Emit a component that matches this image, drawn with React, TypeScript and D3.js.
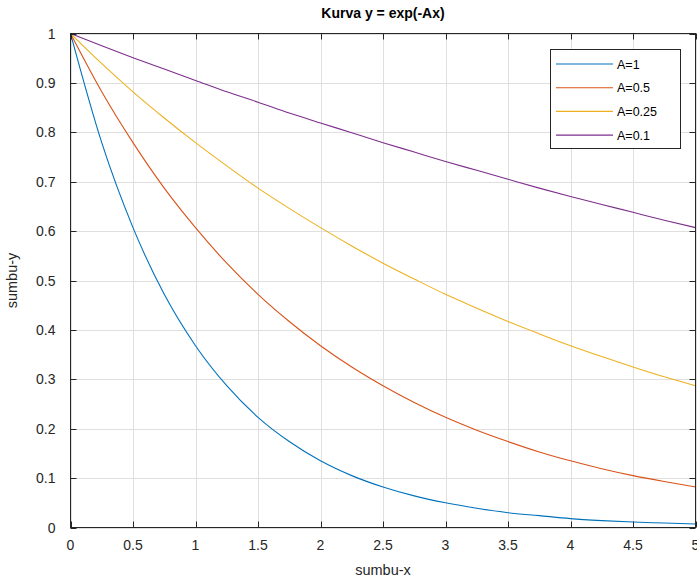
import { useEffect, useRef } from 'react'
import * as d3 from 'd3'

const xValues = [0, 0.25, 0.5, 0.75, 1, 1.25, 1.5, 1.75, 2, 2.25, 2.5, 2.75, 3, 3.25, 3.5, 3.75, 4, 4.25, 4.5, 4.75, 5]
const yA1 = [1, 0.779, 0.607, 0.472, 0.368, 0.287, 0.223, 0.174, 0.135, 0.105, 0.082, 0.064, 0.05, 0.039, 0.03, 0.024, 0.018, 0.014, 0.011, 0.009, 0.007]
const yA05 = [1, 0.882, 0.779, 0.687, 0.607, 0.535, 0.472, 0.417, 0.368, 0.325, 0.287, 0.253, 0.223, 0.197, 0.174, 0.153, 0.135, 0.119, 0.105, 0.093, 0.082]
const yA025 = [1, 0.939, 0.882, 0.829, 0.779, 0.732, 0.687, 0.646, 0.607, 0.57, 0.535, 0.503, 0.472, 0.444, 0.417, 0.392, 0.368, 0.346, 0.325, 0.305, 0.287]
const yA01 = [1, 0.975, 0.951, 0.928, 0.905, 0.882, 0.861, 0.839, 0.819, 0.799, 0.779, 0.76, 0.741, 0.723, 0.705, 0.687, 0.67, 0.654, 0.638, 0.622, 0.607]
const seriesNames = ['A=1', 'A=0.5', 'A=0.25', 'A=0.1']
const seriesColors = ['#0072BD', '#D95319', '#EDB120', '#7E2F8E']
const xTicks = [0, 0.5, 1, 1.5, 2, 2.5, 3, 3.5, 4, 4.5, 5]
const yTicks = [0, 0.1, 0.2, 0.3, 0.4, 0.5, 0.6, 0.7, 0.8, 0.9, 1]

export default function App() {
  const svgRef = useRef<SVGSVGElement>(null)

  useEffect(() => {
    if (!svgRef.current) return
    const svg = d3.select(svgRef.current)
    svg.selectAll('*').remove()

    const width = 697
    const height = 580
    const left = 70.5, right = 695.5, top = 33.5, bottom = 527.5
    const font = 'Liberation Sans, Arial, sans-serif'
    const axisColor = '#262626'

    const x = d3.scaleLinear().domain([0, 5]).range([left, right])
    const y = d3.scaleLinear().domain([0, 1]).range([bottom, top])

    svg.attr('width', width).attr('height', height)
    svg.append('rect').attr('width', width).attr('height', height).attr('fill', '#fff')

    // grid
    const grid = svg.append('g').attr('stroke', '#dfdfdf').attr('stroke-width', 1)
    xTicks.forEach(t => {
      grid.append('line').attr('x1', Math.round(x(t)) + 0.5).attr('x2', Math.round(x(t)) + 0.5)
        .attr('y1', top).attr('y2', bottom)
    })
    yTicks.forEach(t => {
      grid.append('line').attr('y1', Math.round(y(t)) + 0.5).attr('y2', Math.round(y(t)) + 0.5)
        .attr('x1', left).attr('x2', right)
    })

    // curves
    const allSeries = [yA1, yA05, yA025, yA01]
    const line = d3.line<number>()
      .x((_, i) => x(xValues[i]))
      .y(d => y(d))
      .curve(d3.curveMonotoneX)
    allSeries.forEach((s, i) => {
      svg.append('path')
        .datum(s)
        .attr('d', line)
        .attr('fill', 'none')
        .attr('stroke', seriesColors[i])
        .attr('stroke-width', 1.1)
    })

    // box + ticks
    const axes = svg.append('g').attr('stroke', axisColor).attr('stroke-width', 1)
    axes.append('rect').attr('x', left).attr('y', top).attr('width', right - left).attr('height', bottom - top)
      .attr('fill', 'none')
    const tl = 6
    xTicks.forEach(t => {
      const px = Math.round(x(t)) + 0.5
      axes.append('line').attr('x1', px).attr('x2', px).attr('y1', bottom).attr('y2', bottom - tl)
      axes.append('line').attr('x1', px).attr('x2', px).attr('y1', top).attr('y2', top + tl)
    })
    yTicks.forEach(t => {
      const py = Math.round(y(t)) + 0.5
      axes.append('line').attr('y1', py).attr('y2', py).attr('x1', left).attr('x2', left + tl)
      axes.append('line').attr('y1', py).attr('y2', py).attr('x1', right).attr('x2', right - tl)
    })

    // tick labels
    xTicks.forEach(t => {
      svg.append('text')
        .attr('x', x(t)).attr('y', bottom + 22)
        .attr('text-anchor', 'middle')
        .style('font-family', font).style('font-size', '14px').style('fill', axisColor)
        .text(String(t))
    })
    yTicks.forEach(t => {
      svg.append('text')
        .attr('x', left - 15).attr('y', y(t) + 5)
        .attr('text-anchor', 'end')
        .style('font-family', font).style('font-size', '14px').style('fill', axisColor)
        .text(String(t))
    })

    // title and labels
    svg.append('text')
      .attr('x', (left + right) / 2).attr('y', 18)
      .attr('text-anchor', 'middle')
      .style('font-family', font).style('font-size', '14px').style('font-weight', 'bold').style('fill', '#000')
      .text('Kurva y = exp(-Ax)')
    svg.append('text')
      .attr('x', (left + right) / 2).attr('y', 575)
      .attr('text-anchor', 'middle')
      .style('font-family', font).style('font-size', '14.5px').style('fill', axisColor)
      .text('sumbu-x')
    svg.append('text')
      .attr('transform', `translate(17, ${(top + bottom) / 2}) rotate(-90)`)
      .attr('text-anchor', 'middle')
      .style('font-family', font).style('font-size', '14.5px').style('fill', axisColor)
      .text('sumbu-y')

    // legend
    const lg = svg.append('g')
    lg.append('rect').attr('x', 550.5).attr('y', 49.5).attr('width', 130).attr('height', 99)
      .attr('fill', '#fff').attr('stroke', axisColor).attr('stroke-width', 1)
    seriesNames.forEach((name, i) => {
      const ly = 64 + i * 23.7
      lg.append('line').attr('x1', 556).attr('x2', 613).attr('y1', ly).attr('y2', ly)
        .attr('stroke', seriesColors[i]).attr('stroke-width', 1.1)
      lg.append('text').attr('x', 617).attr('y', ly + 4.5)
        .style('font-family', font).style('font-size', '12.5px').style('fill', '#000')
        .text(name)
    })
  }, [])

  return (
    <div style={{ position: 'absolute', left: 0, top: 0 }}>
      <svg ref={svgRef} style={{ display: 'block' }}></svg>
    </div>
  )
}
